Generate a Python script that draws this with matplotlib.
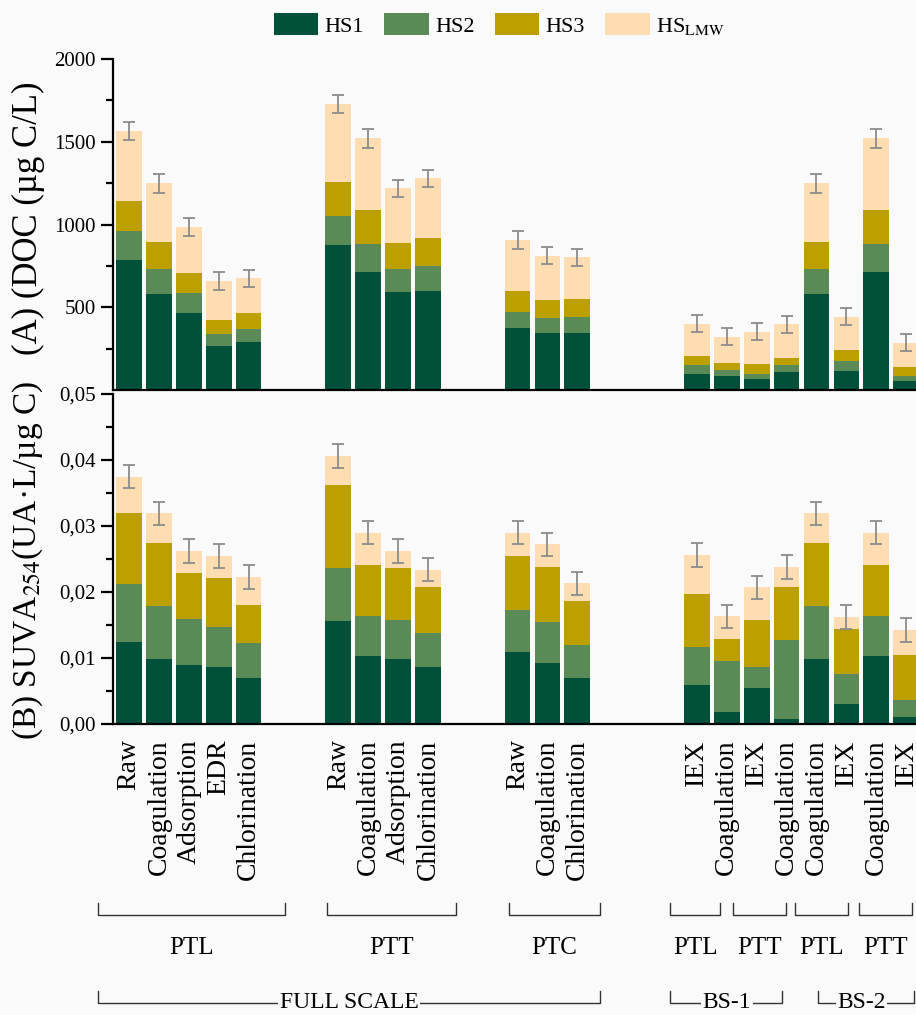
import matplotlib
matplotlib.use('Agg')
import matplotlib.pyplot as plt
import matplotlib.transforms as mtransforms
from matplotlib.patches import Patch
from matplotlib.ticker import FixedLocator, FuncFormatter

plt.rcParams['font.family'] = ['Liberation Serif', 'DejaVu Serif']
plt.rcParams['mathtext.fontset'] = 'stix'

# treatment steps, in plotting order
steps = ['Raw', 'Coagulation', 'Adsorption', 'EDR', 'Chlorination',
         'Raw', 'Coagulation', 'Adsorption', 'Chlorination',
         'Raw', 'Coagulation', 'Chlorination',
         'IEX', 'Coagulation', 'IEX', 'Coagulation',
         'Coagulation', 'IEX', 'Coagulation', 'IEX']
group_sizes = [5, 4, 3, 8]
group_gaps = [0, 2, 2, 3]

# (A) DOC fractions, ug C/L
doc_hs1 = [784, 579, 468, 268, 293, 877, 710, 595, 601, 373, 343, 347,
           99, 85, 65, 107, 579, 115, 710, 53]
doc_hs2 = [177, 155, 117, 71, 78, 177, 175, 135, 147, 101, 90, 93,
           50, 38, 34, 42, 155, 59, 175, 32]
doc_hs3 = [184, 163, 122, 86, 95, 202, 201, 156, 169, 123, 111, 108,
           59, 38, 56, 47, 163, 66, 201, 52]
doc_lmw = [419, 351, 278, 236, 209, 473, 434, 333, 363, 310, 268, 254,
           193, 162, 198, 201, 351, 204, 434, 150]
doc_err = [55, 55, 52, 55, 52, 55, 55, 52, 52, 55, 52, 52,
           52, 52, 52, 52, 55, 52, 55, 52]

# (B) SUVA254 fractions, UA.L/ug C
suva_hs1 = [.0125, .0098, .0090, .0087, .0070, .0156, .0103, .0098, .0087,
            .0109, .0093, .0070, .0059, .0018, .0055, .0007, .0098, .0031,
            .0103, .0011]
suva_hs2 = [.0087, .0081, .0069, .0060, .0052, .0081, .0061, .0060, .0051,
            .0063, .0062, .0049, .0057, .0078, .0032, .0121, .0081, .0045,
            .0061, .0026]
suva_hs3 = [.0107, .0095, .0070, .0074, .0059, .0125, .0077, .0079, .0069,
            .0083, .0083, .0067, .0081, .0033, .0070, .0080, .0095, .0068,
            .0077, .0068]
suva_lmw = [.0056, .0045, .0033, .0034, .0042, .0044, .0049, .0025, .0027,
            .0035, .0034, .0027, .0059, .0034, .0050, .0030, .0045, .0018,
            .0049, .0038]
suva_err = [.0018, .0018, .0018, .0018, .0018, .0018, .0018, .0018, .0018,
            .0018, .0018, .0018, .0018, .0018, .0018, .0018, .0018, .0018,
            .0018, .0018]

colors = ['#00503a', '#5a8a55', '#bba000', '#ffddb3']
labels = ['HS1', 'HS2', 'HS3', r'HS$_{\mathrm{LMW}}$']

# x positions from group sizes and gaps
pos = []
k = 0
for n, g in zip(group_sizes, group_gaps):
    k += g
    for i in range(n):
        pos.append(k)
        k += 1

bg = '#fafafa'
fig = plt.figure(figsize=(9.16, 10.15), dpi=100, facecolor=bg)
ax1 = fig.add_axes([113/916, 1-390/1015, 1-113/916, 331/1015], facecolor=bg)
ax2 = fig.add_axes([113/916, 1-724/1015, 1-113/916, 330/1015], facecolor=bg)


def stack(ax, parts, err):
    bottom = [0]*len(pos)
    for vals, c in zip(parts, colors):
        ax.bar(pos, vals, width=0.86, bottom=bottom, color=c, linewidth=0)
        bottom = [b+v for b, v in zip(bottom, vals)]
    ax.errorbar(pos, bottom, yerr=err, fmt='none', ecolor='#8c8c8c',
                elinewidth=1.3, capsize=4, capthick=1.3)


stack(ax1, [doc_hs1, doc_hs2, doc_hs3, doc_lmw], doc_err)
stack(ax2, [suva_hs1, suva_hs2, suva_hs3, suva_lmw], suva_err)

for ax in (ax1, ax2):
    ax.set_xlim(-0.535, 26.33)
    ax.spines['top'].set_visible(False)
    ax.spines['right'].set_visible(False)
    ax.spines['left'].set_linewidth(1.6)
    ax.spines['bottom'].set_linewidth(1.6)
    ax.tick_params(axis='y', which='major', direction='out', length=9,
                   width=1.6, labelsize=15)
    ax.tick_params(axis='y', which='minor', direction='out', length=5,
                   width=1.6)

ax1.set_ylim(0, 2000)
ax1.set_yticks([500, 1000, 1500, 2000])
ax1.yaxis.set_minor_locator(FixedLocator([250, 750, 1250, 1750]))
ax1.set_xticks([])

ax2.set_ylim(0, 0.05)
ax2.set_yticks([0, 0.01, 0.02, 0.03, 0.04, 0.05])
ax2.yaxis.set_minor_locator(FixedLocator([0.005, 0.015, 0.025, 0.035, 0.045]))
ax2.yaxis.set_major_formatter(FuncFormatter(lambda v, p: ('%.2f' % v).replace('.', ',')))
ax2.set_xticks(pos)
ax2.set_xticklabels(steps, rotation=90, fontsize=20)
ax2.tick_params(axis='x', length=0, pad=11)

fig.text(28/916, 1-218/1015, '(A) (DOC (µg C/L)', rotation=90,
         ha='center', va='center', fontsize=25)
fig.text(28/916, 1-560/1015, r'(B) SUVA$_{254}$(UA·L/µg C)', rotation=90,
         ha='center', va='center', fontsize=24)

handles = [Patch(facecolor=c) for c in colors]
fig.legend(handles, labels, loc='center', bbox_to_anchor=(0.545, 1-25/1015),
           ncol=4, frameon=False, fontsize=16, handlelength=2.0,
           handleheight=1.1, columnspacing=0.9, handletextpad=0.3)

# group brackets below the axis
tr = mtransforms.blended_transform_factory(ax2.transData, fig.transFigure)
line_kw = dict(color='#333333', lw=1, transform=tr, clip_on=False)


def bracket(x0, x1, y, h=0.012):
    ax2.plot([x0, x0, x1, x1], [y+h, y, y, y+h], **line_kw)


sub = [(-1.04, 5.22, 'PTL'), (6.63, 10.94, 'PTT'), (12.72, 15.76, 'PTC'),
       (18.1, 19.78, 'PTL'), (20.2, 21.99, 'PTT'), (22.29, 24.06, 'PTL'),
       (24.43, 26.2, 'PTT')]
for x0, x1, name in sub:
    bracket(x0, x1, 1-915/1015)
    ax2.text((x0+x1)/2, 1-948/1015, name, ha='center', va='center',
             fontsize=18, transform=tr)

top = [(-1.04, 15.76, 7.36, 'FULL SCALE'), (18.1, 21.85, 20.0, 'BS-1'),
       (23.06, 26.27, 24.5, 'BS-2')]
for x0, x1, xc, name in top:
    bracket(x0, x1, 1-1003/1015)
    ax2.text(xc, 1-1003/1015, name, ha='center', va='center', fontsize=17,
             transform=tr, bbox=dict(facecolor=bg, edgecolor='none', pad=1))

fig.savefig('out.png', dpi=100, facecolor=bg)
